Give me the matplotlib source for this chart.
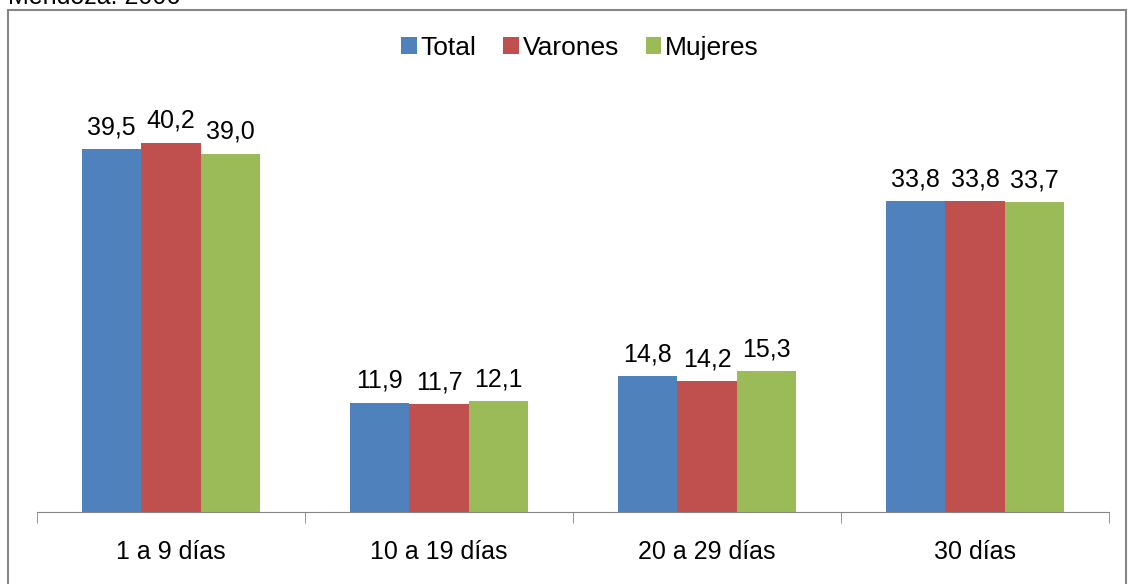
import numpy as np
import matplotlib.pyplot as plt
from matplotlib.patches import Rectangle

plt.rcParams['font.family'] = ['Liberation Sans', 'DejaVu Sans']

categories = ['1 a 9 días', '10 a 19 días', '20 a 29 días', '30 días']
series = ['Total', 'Varones', 'Mujeres']
total = [39.5, 11.9, 14.8, 33.8]
varones = [40.2, 11.7, 14.2, 33.8]
mujeres = [39.0, 12.1, 15.3, 33.7]
colors = ['#4f81bd', '#c0504d', '#9bbb59']

fig = plt.figure(figsize=(11.28, 5.84), dpi=100)
W, H = 1128, 584

# outer chart frame (bottom runs off the image)
fig.add_artist(Rectangle((8 / W, -0.05), (1126 - 8) / W, 1.05 - 10 / H,
                         transform=fig.transFigure, fill=False,
                         edgecolor='#868686', linewidth=1.5))
# title line is cut off at the top edge, as in the source image
fig.text(8 / W, 1 - 4 / H, 'Mendoza. 2006', fontsize=18, va='baseline', ha='left')

ax = fig.add_axes([37 / W, 72 / H, (1109 - 37) / W, (512 - 98.4) / H])
x = np.arange(len(categories))
bw = 59.5 / 268
for i, (vals, name, c) in enumerate(zip([total, varones, mujeres], series, colors)):
    pos = x + (i - 1) * bw
    ax.bar(pos, vals, width=bw, color=c, label=name)
    for p, v in zip(pos, vals):
        ax.annotate(f'{v:.1f}'.replace('.', ','), (p, v), xytext=(0, 7),
                    textcoords='offset points', ha='center', va='bottom', fontsize=18)

ax.set_xlim(-0.5, len(categories) - 0.5)
ax.set_ylim(0, 45)
ax.set_yticks([])
for s in ['top', 'right', 'left']:
    ax.spines[s].set_visible(False)
ax.spines['bottom'].set_color('#868686')
ax.set_xticks(np.arange(len(categories) + 1) - 0.5, minor=True)
ax.set_xticks(x)
ax.set_xticklabels(categories, fontsize=18)
ax.tick_params(axis='x', which='major', length=0, pad=20)
ax.tick_params(axis='x', which='minor', length=8, color='#868686', direction='out')

fig.legend(loc='center', bbox_to_anchor=(0.5 + 16 / W, 1 - 48 / H), ncol=3,
           frameon=False, fontsize=19, handlelength=0.6, handleheight=0.6,
           handletextpad=0.15, columnspacing=1.0)

fig.savefig('out.png', dpi=100)
